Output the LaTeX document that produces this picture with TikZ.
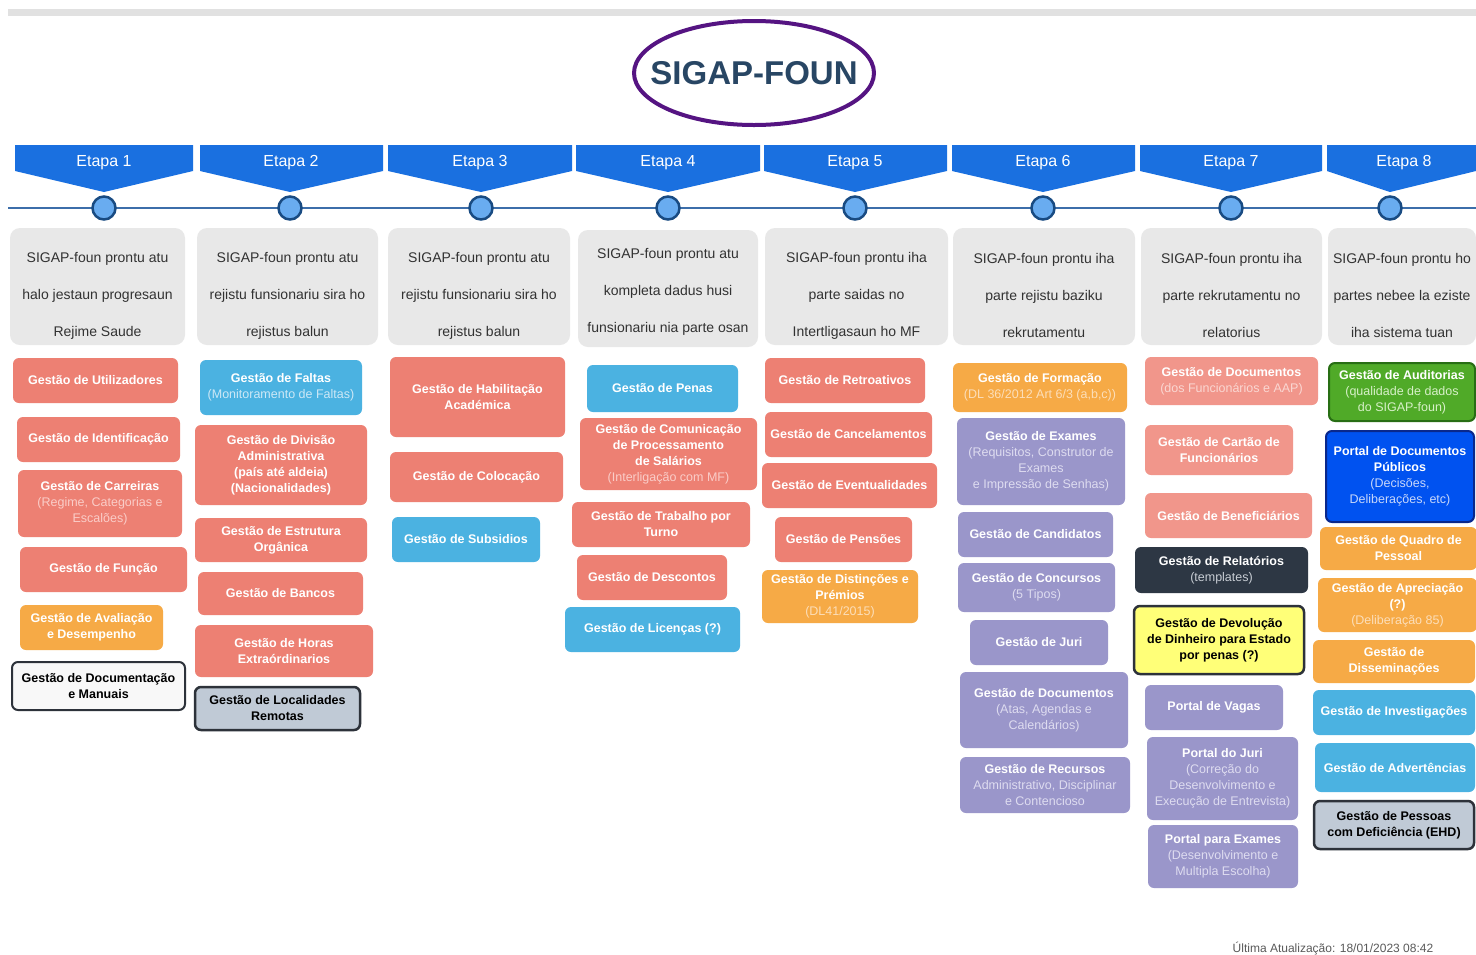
\documentclass[tikz,border=0pt]{standalone}
\usepackage{fontspec}
\setmainfont{Liberation Sans}
\definecolor{salmc}{RGB}{237,128,115}
\definecolor{salmsub}{RGB}{250,205,200}
\definecolor{lsalmc}{RGB}{241,150,139}
\definecolor{lsalmsub}{RGB}{250,215,210}
\definecolor{bluec}{RGB}{75,178,225}
\definecolor{bluesub}{RGB}{205,232,246}
\definecolor{orangec}{RGB}{246,170,70}
\definecolor{orangesub}{RGB}{252,222,185}
\definecolor{purpc}{RGB}{154,150,202}
\definecolor{purpsub}{RGB}{222,220,240}
\definecolor{darkc}{RGB}{45,55,68}
\definecolor{darksub}{RGB}{200,205,212}
\definecolor{yellc}{RGB}{255,255,120}
\definecolor{greenc}{RGB}{80,170,40}
\definecolor{greenb}{RGB}{40,110,20}
\definecolor{greensub}{RGB}{215,240,200}
\definecolor{bbluec}{RGB}{0,82,240}
\definecolor{bblueb}{RGB}{10,40,140}
\definecolor{bbluesub}{RGB}{200,215,250}
\definecolor{graybl}{RGB}{192,202,214}
\definecolor{borderc}{RGB}{45,50,58}
\definecolor{whitebox}{RGB}{248,248,248}
\definecolor{etapac}{RGB}{26,112,224}
\definecolor{linec}{RGB}{60,110,170}
\definecolor{circfill}{RGB}{105,172,240}
\definecolor{circdraw}{RGB}{25,75,130}
\definecolor{panelc}{RGB}{232,232,232}
\definecolor{paneltext}{RGB}{50,50,50}
\definecolor{titletext}{RGB}{40,70,100}
\definecolor{titlering}{RGB}{85,20,130}
\definecolor{topbar}{RGB}{225,225,225}
\definecolor{foottext}{RGB}{90,90,90}
\newcommand\bfnt{\fontsize{12.5}{16}\selectfont\bfseries}
\newcommand\pfnt{\fontsize{14}{37}\selectfont}
\newcommand\sbt[1]{{\mdseries\color{\subcol}#1}}
\def\subcol{white}
\newcommand\gbox[7]{\node[gb,#6,minimum width={(#4-#2)*1pt},minimum height={(#5-#3)*1pt}] (#1) at ({(#2+#4)/2},{(#3+#5)/2}) {#7};}
\newcommand\gpanel[7]{\node[panel,minimum width={(#4-#2)*1pt},minimum height={(#5-#3)*1pt}] (#1) at ({(#2+#4)/2},{(#3+#5)/2}) {};
  \node[paneltxt] (#1t) at ({(#2+#4)/2},{(#3+#5)/2+#6}) {#7};}
\tikzset{
  gb/.style={rounded corners=6pt,align=center,inner sep=1pt,font=\bfnt,draw=none},
  salm/.style={fill=salmc,text=white,execute at begin node={\def\subcol{salmsub}}},
  lsalm/.style={fill=lsalmc,text=white,execute at begin node={\def\subcol{lsalmsub}}},
  bluebx/.style={fill=bluec,text=white,execute at begin node={\def\subcol{bluesub}}},
  orng/.style={fill=orangec,text=white,execute at begin node={\def\subcol{orangesub}}},
  purp/.style={fill=purpc,text=white,execute at begin node={\def\subcol{purpsub}}},
  darkbx/.style={fill=darkc,text=white,execute at begin node={\def\subcol{darksub}}},
  yellbx/.style={fill=yellc,text=black,draw=borderc,line width=2.5pt},
  greenbx/.style={fill=greenc,text=white,draw=greenb,line width=2pt,execute at begin node={\def\subcol{greensub}}},
  bbluebx/.style={fill=bbluec,text=white,draw=bblueb,line width=2pt,execute at begin node={\def\subcol{bbluesub}}},
  graybx/.style={fill=graybl,text=black,draw=borderc,line width=2.5pt},
  whitebx/.style={fill=whitebox,text=black,draw=borderc,line width=2pt},
  panel/.style={fill=panelc,rounded corners=10pt,inner sep=0pt},
  paneltxt/.style={align=center,inner sep=0pt,font=\pfnt,text=paneltext},
  etapalbl/.style={text=white,font=\fontsize{16}{18}\selectfont,inner sep=0pt},
  tline/.style={draw=linec,line width=2pt},
  stepcirc/.style={circle,fill=circfill,draw=circdraw,line width=2.5pt,minimum size=23pt,inner sep=0pt}
}
\begin{document}
\begin{tikzpicture}[x=1pt,y=-1pt]
\useasboundingbox (0,0) rectangle (1476,954);
\fill[white] (0,0) rectangle (1476,954);
\fill[topbar] (8,9) rectangle (1476,16);
% title
\node[inner sep=0pt,text=titletext,font=\fontsize{33}{36}\selectfont\bfseries] (title) at (754,73) {SIGAP-FOUN};
\draw[titlering,line width=4pt] (title.center) ellipse [x radius=120, y radius=52];
% timeline
\coordinate (L) at (8,208);
\coordinate (R) at (1476,208);
\draw[tline] (L) -- (R);
\foreach \i/\a/\b/\c/\t in {1/15/193/104/104,2/200/383/290/291,3/388/572/481/480,4/576/760/668/668,5/764/947/855/855,6/952/1135/1043/1043,7/1140/1322/1231/1231,8/1327/1476/1390/1404}{
  \fill[etapac] (\a,145) -- (\b,145) -- (\b,171) -- (\c,192) -- (\a,171) -- cycle;
  \node[etapalbl] (e\i) at (\t,163) {Etapa \i};
  \node[stepcirc] (c\i) at (\c,208) {};
}
% panels
\gpanel{g1}{10}{228}{185}{345}{9}{SIGAP-foun prontu atu\\halo jestaun progresaun\\Rejime Saude}
\gpanel{g2}{197}{228}{378}{345}{9}{SIGAP-foun prontu atu\\rejistu funsionariu sira ho\\rejistus balun}
\gpanel{g3}{388}{228}{570}{345}{9}{SIGAP-foun prontu atu\\rejistu funsionariu sira ho\\rejistus balun}
\gpanel{g4}{578}{230}{758}{347}{3}{SIGAP-foun prontu atu\\kompleta dadus husi\\funsionariu nia parte osan}
\gpanel{g5}{765}{228}{948}{345}{9}{SIGAP-foun prontu iha\\parte saidas no\\Intertligasaun ho MF}
\gpanel{g6}{953}{228}{1135}{345}{9}{SIGAP-foun prontu iha\\parte rejistu baziku\\rekrutamentu}
\gpanel{g7}{1141}{228}{1322}{345}{9}{SIGAP-foun prontu iha\\parte rekrutamentu no\\relatorius}
\gpanel{g8}{1328}{228}{1476}{345}{9}{SIGAP-foun prontu ho\\partes nebee la eziste\\iha sistema tuan}
% column 1
\gbox{u1}{13}{358}{178}{403}{salm}{Gestão de Utilizadores}
\gbox{u2}{17}{417}{180}{462}{salm}{Gestão de Identificação}
\gbox{u3}{18}{470}{182}{537}{salm}{Gestão de Carreiras\\\sbt{(Regime, Categorias e}\\\sbt{Escalões)}}
\gbox{u4}{20}{547}{187}{592}{salm}{Gestão de Função}
\gbox{u5}{20}{605}{163}{650}{orng}{Gestão de Avaliação\\e Desempenho}
\gbox{u6}{12}{662}{185}{710}{whitebx}{Gestão de Documentação\\e Manuais}
% column 2
\gbox{f1}{200}{360}{362}{415}{bluebx}{Gestão de Faltas\\\sbt{(Monitoramento de Faltas)}}
\gbox{f2}{195}{425}{367}{505}{salm}{Gestão de Divisão\\Administrativa\\(país até aldeia)\\(Nacionalidades)}
\gbox{f3}{195}{518}{367}{562}{salm}{Gestão de Estrutura\\Orgânica}
\gbox{f4}{198}{572}{363}{615}{salm}{Gestão de Bancos}
\gbox{f5}{195}{625}{373}{677}{salm}{Gestão de Horas\\Extraórdinarios}
\gbox{f6}{195}{687}{360}{730}{graybx}{Gestão de Localidades\\Remotas}
% column 3
\gbox{h1}{390}{357}{565}{437}{salm}{Gestão de Habilitação\\Académica}
\gbox{h2}{390}{452}{563}{502}{salm}{Gestão de Colocação}
\gbox{h3}{392}{517}{540}{562}{bluebx}{Gestão de Subsidios}
% column 4
\gbox{p1}{587}{365}{738}{412}{bluebx}{Gestão de Penas}
\gbox{p2}{580}{418}{757}{490}{salm}{Gestão de Comunicação\\de Processamento\\de Salários\\\sbt{(Interligação com MF)}}
\gbox{p3}{572}{502}{750}{547}{salm}{Gestão de Trabalho por\\Turno}
\gbox{p4}{577}{555}{727}{600}{salm}{Gestão de Descontos}
\gbox{p5}{565}{607}{740}{652}{bluebx}{Gestão de Licenças (?)}
% column 5
\gbox{r1}{765}{358}{925}{403}{salm}{Gestão de Retroativos}
\gbox{r2}{765}{412}{932}{457}{salm}{Gestão de Cancelamentos}
\gbox{r3}{762}{463}{937}{508}{salm}{Gestão de Eventualidades}
\gbox{r4}{775}{517}{912}{562}{salm}{Gestão de Pensões}
\gbox{r5}{762}{570}{918}{623}{orng}{Gestão de Distinções e\\Prémios\\\sbt{(DL41/2015)}}
% column 6
\gbox{x1}{953}{363}{1127}{412}{orng}{Gestão de Formação\\\sbt{(DL 36/2012 Art 6/3 (a,b,c))}}
\gbox{x2}{957}{418}{1125}{505}{purp}{Gestão de Exames\\\sbt{(Requisitos, Construtor de}\\\sbt{Exames}\\\sbt{e Impressão de Senhas)}}
\gbox{x3}{958}{512}{1113}{557}{purp}{Gestão de Candidatos}
\gbox{x4}{958}{563}{1115}{612}{purp}{Gestão de Concursos\\\sbt{(5 Tipos)}}
\gbox{x5}{970}{620}{1108}{665}{purp}{Gestão de Juri}
\gbox{x6}{960}{672}{1128}{748}{purp}{Gestão de Documentos\\\sbt{(Atas, Agendas e}\\\sbt{Calendários)}}
\gbox{x7}{960}{757}{1130}{813}{purp}{Gestão de Recursos\\\sbt{Administrativo, Disciplinar}\\\sbt{e Contencioso}}
% column 7
\gbox{s1}{1145}{357}{1318}{405}{lsalm}{Gestão de Documentos\\\sbt{(dos Funcionários e AAP)}}
\gbox{s2}{1145}{425}{1293}{475}{lsalm}{Gestão de Cartão de\\Funcionários}
\gbox{s3}{1145}{493}{1312}{538}{lsalm}{Gestão de Beneficiários}
\gbox{s4}{1135}{547}{1308}{593}{darkbx}{Gestão de Relatórios\\\sbt{(templates)}}
\gbox{s5}{1134}{606}{1304}{674}{yellbx}{Gestão de Devolução\\de Dinheiro para Estado\\por penas (?)}
\gbox{s6}{1145}{685}{1283}{730}{purp}{Portal de Vagas}
\gbox{s7}{1147}{737}{1298}{820}{purp}{Portal do Juri\\\sbt{(Correção do}\\\sbt{Desenvolvimento e}\\\sbt{Execução de Entrevista)}}
\gbox{s8}{1148}{825}{1298}{888}{purp}{Portal para Exames\\\sbt{(Desenvolvimento e}\\\sbt{Multipla Escolha)}}
% column 8
\gbox{a1}{1329}{363}{1475}{421}{greenbx}{Gestão de Auditorias\\\sbt{(qualidade de dados}\\\sbt{do SIGAP-foun)}}
\gbox{a2}{1326}{431}{1474}{522}{bbluebx}{Portal de Documentos\\Públicos\\\sbt{(Decisões,}\\\sbt{Deliberações, etc)}}
\gbox{a3}{1320}{527}{1477}{570}{orng}{Gestão de Quadro de\\Pessoal}
\gbox{a4}{1318}{578}{1477}{632}{orng}{Gestão de Apreciação\\(?)\\\sbt{(Deliberação 85)}}
\gbox{a5}{1313}{640}{1475}{683}{orng}{Gestão de\\Disseminações}
\gbox{a6}{1313}{690}{1475}{735}{bluebx}{Gestão de Investigações}
\gbox{a7}{1315}{743}{1475}{792}{bluebx}{Gestão de Advertências}
\gbox{a8}{1314}{801}{1474}{849}{graybx}{Gestão de Pessoas\\com Deficiência (EHD)}
% footer
\node[anchor=north,text=foottext,font=\fontsize{12}{13}\selectfont,inner sep=0pt] (foot) at (1333,942) {Última Atualização: 18/01/2023 08:42};
\end{tikzpicture}
\end{document}
